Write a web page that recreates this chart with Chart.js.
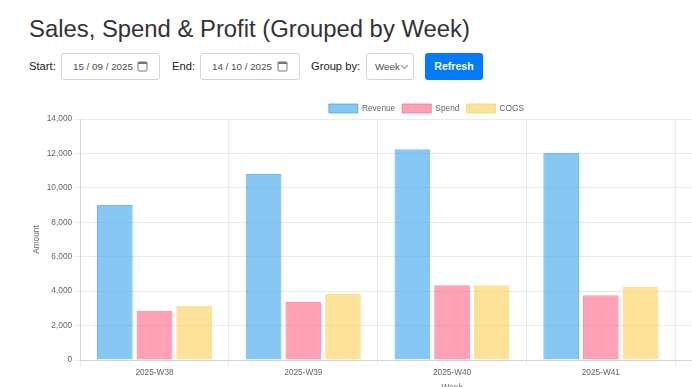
<!DOCTYPE html>
<html>
<head>
<meta charset="utf-8">
<title>Sales, Spend & Profit</title>
<script src="https://cdn.jsdelivr.net/npm/chart.js@4"></script>
<style>
  html, body { margin: 0; padding: 0; width: 692px; height: 387px; overflow: hidden; background: #fff; }
  body { font-family: "Liberation Sans", Arial, sans-serif; color: #212529; position: relative; }
  h1 { position: absolute; left: 29px; top: 15px; margin: 0; font-size: 23.85px; font-weight: 400; line-height: 28px; color: #333; white-space: nowrap; }
  .lbl { position: absolute; top: 59px; font-size: 11.2px; line-height: 14px; color: #222; }
  .field { position: absolute; top: 53px; height: 27px; box-sizing: border-box; border: 1px solid #ced4da; border-radius: 3px; font-size: 9.8px; line-height: 25px; color: #495057; background: #fff; white-space: nowrap; }
  .field svg { position: absolute; top: 6px; }
  .btn { position: absolute; left: 425px; top: 53px; width: 58px; height: 27px; background: #007bff; color: #fff; border-radius: 3px; font-size: 10.6px; font-weight: 700; line-height: 26px; text-align: center; }
  #box { position: absolute; left: 28px; top: 97px; width: 800px; height: 299px; }
</style>
</head>
<body>
<h1>Sales, Spend &amp; Profit (Grouped by Week)</h1>

<span class="lbl" style="left:29px">Start:</span>
<div class="field" style="left:61px;width:99px"><span style="position:absolute;left:11px;top:0">15 / 09 / 2025</span>
  <svg style="left:75px" width="11" height="12" viewBox="0 0 11 12"><rect x="1" y="2" width="9" height="9" rx="1" fill="none" stroke="#777" stroke-width="1"/><rect x="1" y="2" width="9" height="2" fill="#777"/></svg></div>

<span class="lbl" style="left:172px">End:</span>
<div class="field" style="left:200px;width:100px"><span style="position:absolute;left:11px;top:0">14 / 10 / 2025</span>
  <svg style="left:76px" width="11" height="12" viewBox="0 0 11 12"><rect x="1" y="2" width="9" height="9" rx="1" fill="none" stroke="#777" stroke-width="1"/><rect x="1" y="2" width="9" height="2" fill="#777"/></svg></div>

<span class="lbl" style="left:311px">Group by:</span>
<div class="field" style="left:366px;width:48px"><span style="position:absolute;left:8px;top:0">Week</span>
  <svg style="left:33px;top:9px" width="9" height="7" viewBox="0 0 9 7"><path d="M1 2 L4.5 5.5 L8 2" fill="none" stroke="#aaa" stroke-width="1.5"/></svg></div>

<div class="btn">Refresh</div>

<div id="box"><canvas id="salesChart"></canvas></div>

<script>
const weeks = ['2025-W38', '2025-W39', '2025-W40', '2025-W41', '2025-W42'];
// W42 sits past the right edge of the window, so its bars are unknown
const revenue = [9000, 10800, 12250, 12020, null];
const spend = [2860, 3370, 4350, 3770, null];
const cogs = [3150, 3850, 4350, 4260, null];

const tickFont = { family: '"Liberation Sans", Arial, sans-serif', size: 8.3 };
const tickColor = '#666';
const gridColor = 'rgba(0,0,0,0.08)';

// tighter gap under the legend
const legendGap = {
  id: 'legendGap',
  beforeInit(chart) {
    const fit = chart.legend.fit;
    chart.legend.fit = function () {
      fit.call(this);
      this.height -= 4;
    };
  },
};

const ctx = document.getElementById('salesChart').getContext('2d');
new Chart(ctx, {
  type: 'bar',
  plugins: [legendGap],
  data: {
    labels: weeks,
    datasets: [
      { label: 'Revenue', data: revenue, backgroundColor: 'rgba(54,162,235,0.6)', borderColor: 'rgba(54,162,235,0.7)', borderWidth: 1 },
      { label: 'Spend', data: spend, backgroundColor: 'rgba(255,99,132,0.6)', borderColor: 'rgba(255,99,132,0.7)', borderWidth: 1 },
      { label: 'COGS', data: cogs, backgroundColor: 'rgba(255,206,86,0.6)', borderColor: 'rgba(255,206,86,0.7)', borderWidth: 1 },
    ],
  },
  options: {
    responsive: true,
    maintainAspectRatio: false,
    animation: false,
    layout: { padding: { left: 0.8, right: 4 } },
    plugins: {
      legend: {
        labels: { boxWidth: 29, boxHeight: 9, padding: 7, font: tickFont, color: tickColor },
      },
      tooltip: { enabled: false },
    },
    scales: {
      x: {
        title: { display: true, text: 'Week', font: tickFont, color: tickColor, padding: 3 },
        ticks: { font: tickFont, color: tickColor, padding: 2 },
        grid: { tickLength: 6, color: gridColor },
      },
      y: {
        beginAtZero: true,
        min: 0,
        max: 14000,
        title: { display: true, text: 'Amount', font: tickFont, color: tickColor, padding: 3 },
        ticks: { stepSize: 2000, font: tickFont, color: tickColor, padding: 2 },
        grid: { tickLength: 6, color: gridColor },
      },
    },
  },
});
</script>
</body>
</html>
